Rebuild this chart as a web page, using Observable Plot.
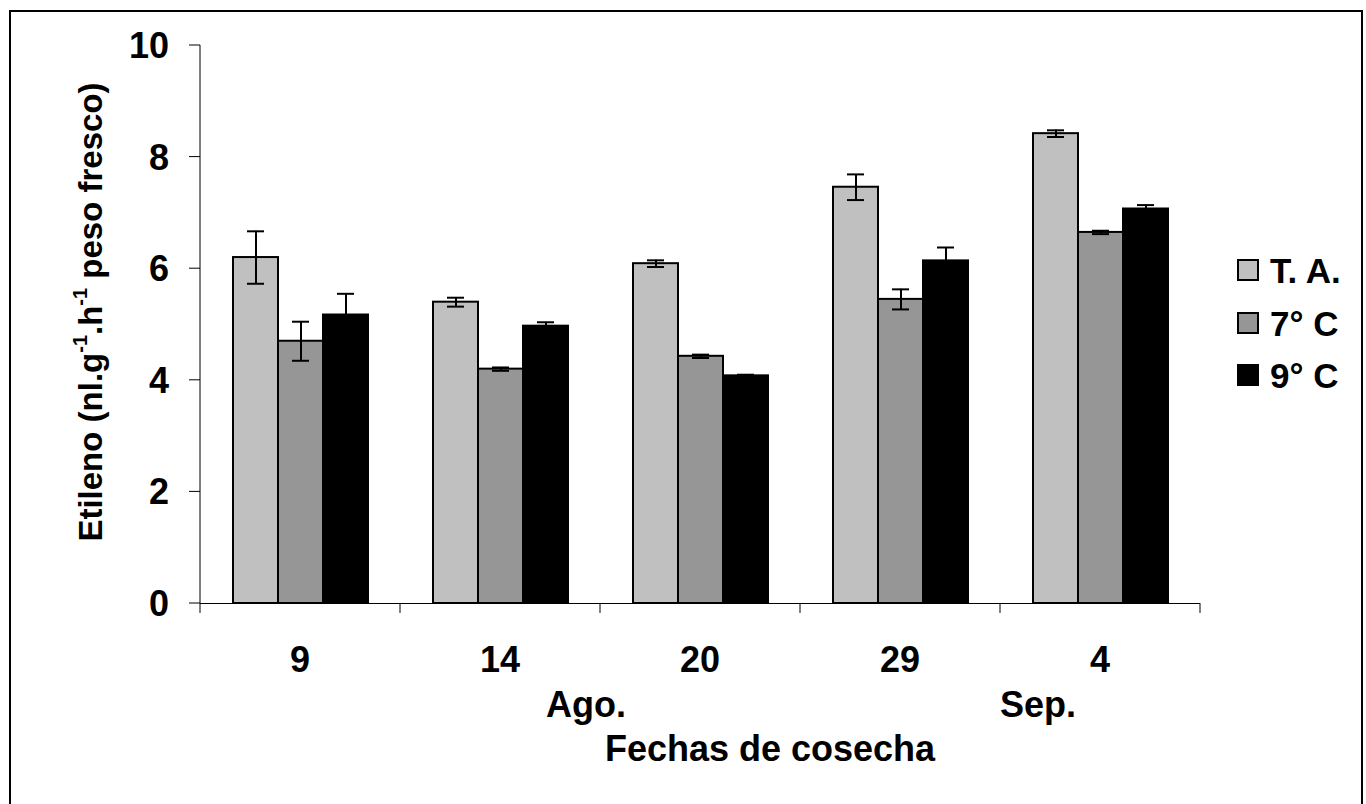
<!DOCTYPE html>
<html>
<head>
<meta charset="utf-8">
<script src="https://cdn.jsdelivr.net/npm/d3@7"></script>
<script src="https://cdn.jsdelivr.net/npm/@observablehq/plot@0.6"></script>
<style>
  html, body { margin: 0; padding: 0; background: #fff; }
  body { width: 1366px; height: 804px; overflow: hidden; position: relative; font-family: "Liberation Sans", Arial, sans-serif; font-weight: bold; color: #000; }
  #frame { position: absolute; left: 9px; top: 10px; width: 1354px; height: 820px; border: 2.5px solid #000; box-sizing: border-box; }
  #chart { position: absolute; left: 0; top: 0; }
  #ytitle { position: absolute; left: 90px; top: 312px; transform: translate(-50%, -50%) rotate(-90deg); font-size: 33px; white-space: nowrap; line-height: 1; }
  #ytitle sup { font-size: 20px; vertical-align: 0.75em; line-height: 0; }
  .leg { position: absolute; left: 1237px; height: 36px; display: flex; align-items: center; font-size: 35px; line-height: 1; }
  .leg span.sw { display: inline-block; width: 18px; height: 18px; border: 2px solid #000; margin-right: 11px; box-sizing: content-box; }
</style>
</head>
<body>
<div id="frame"></div>
<div id="chart"></div>
<div id="ytitle">Etileno (nl.g<sup>-1</sup>.h<sup>-1</sup> peso fresco)</div>
<script>
// ---- data ----
const fechas = ["9", "14", "20", "29", "4"];
const series = ["T. A.", "7° C", "9° C"];
const colores = ["#c0c0c0", "#969696", "#000000"];
const taValores = [6.20, 5.40, 6.09, 7.46, 8.42];
const c7Valores = [4.70, 4.20, 4.43, 5.45, 6.65];
const c9Valores = [5.17, 4.97, 4.08, 6.14, 7.07];
const taError = [0.47, 0.08, 0.06, 0.23, 0.06];
const c7Error = [0.35, 0.03, 0.03, 0.18, 0.03];
const c9Error = [0.38, 0.07, 0.02, 0.24, 0.07];
const yTicks = [0, 2, 4, 6, 8, 10];
const meses = [{texto: "Ago.", fecha: "14", pos: 0.93}, {texto: "Sep.", fecha: "4", pos: 0.19}];
const xTitulo = "Fechas de cosecha";

const valores = [taValores, c7Valores, c9Valores];
const errores = [taError, c7Error, c9Error];
const datos = [];
fechas.forEach((f, i) => series.forEach((s, j) => {
  datos.push({fecha: f, serie: s, valor: valores[j][i], err: errores[j][i]});
}));

const W = 1366, H = 804, FS = 36;
const plot = Plot.plot({
  width: W, height: H,
  marginLeft: 200, marginRight: 166, marginTop: 45, marginBottom: 201,
  style: {fontFamily: "Liberation Sans, Arial, sans-serif", fontWeight: "bold", fontSize: FS + "px", background: "transparent", overflow: "visible"},
  fx: {domain: fechas, padding: 0, label: null, axis: null},
  x: {domain: series, paddingInner: 0, paddingOuter: 0.72, axis: null},
  y: {domain: [0, 10], ticks: yTicks, label: null, axis: null},
  color: {domain: series, range: colores},
  marks: [
    Plot.barY(datos, {fx: "fecha", x: "serie", y: "valor", fill: "serie", stroke: "#000", strokeWidth: 2, inset: 0}),
    Plot.ruleX(datos, {fx: "fecha", x: "serie", y1: d => d.valor - d.err, y2: d => d.valor + d.err, stroke: "#000", strokeWidth: 2}),
    Plot.tickY(datos, {fx: "fecha", x: "serie", y: d => d.valor + d.err, stroke: "#000", strokeWidth: 2, insetLeft: 14, insetRight: 14}),
    Plot.tickY(datos, {fx: "fecha", x: "serie", y: d => d.valor - d.err, stroke: "#000", strokeWidth: 2, insetLeft: 14, insetRight: 14}),
    Plot.ruleY([0], {stroke: "#000", strokeWidth: 1})
  ]
});
document.getElementById("chart").appendChild(plot);

// axes drawn from Plot's own scales
const fxS = plot.scale("fx"), yS = plot.scale("y");
const fx = d3.scaleBand(fxS.domain, fxS.range).paddingInner(0).paddingOuter(0);
const y = d3.scaleLinear(yS.domain, yS.range);
const svg = d3.select(plot);
const g = svg.append("g").attr("stroke", "#000").attr("stroke-width", 1);
const x0 = fx.range()[0];
g.append("line").attr("x1", x0).attr("x2", x0).attr("y1", y(10)).attr("y2", y(0));
yTicks.forEach(t => g.append("line").attr("x1", x0 - 11).attr("x2", x0).attr("y1", y(t)).attr("y2", y(t)));
const bounds = fechas.map(f => fx(f)).concat([fx(fechas[fechas.length - 1]) + fx.bandwidth()]);
bounds.forEach(b => g.append("line").attr("x1", b).attr("x2", b).attr("y1", y(0)).attr("y2", y(0) + 10));
const tg = svg.append("g").attr("font-size", FS).attr("font-weight", "bold").attr("fill", "#000");
yTicks.forEach(t => tg.append("text").attr("x", x0 - 31).attr("y", y(t)).attr("dy", "0.36em").attr("text-anchor", "end").text(t));
fechas.forEach(f => tg.append("text").attr("x", fx(f) + fx.bandwidth() / 2).attr("y", y(0) + 56).attr("dy", "0.36em").attr("text-anchor", "middle").text(f));
meses.forEach(m => tg.append("text")
  .attr("x", fx(m.fecha) + fx.bandwidth() * m.pos)
  .attr("y", y(0) + 101).attr("dy", "0.36em").attr("text-anchor", "middle").text(m.texto));
tg.append("text").attr("x", fx("20") + fx.bandwidth() * 0.85).attr("y", y(0) + 145).attr("dy", "0.36em").attr("text-anchor", "middle").text(xTitulo);

// legend
const legY = [270, 323, 375];
series.forEach((s, i) => {
  const d = document.createElement("div");
  d.className = "leg";
  d.style.top = (legY[i] - 18) + "px";
  d.innerHTML = `<span class="sw" style="background:${colores[i]}"></span>${s}`;
  document.body.appendChild(d);
});
</script>
</body>
</html>
